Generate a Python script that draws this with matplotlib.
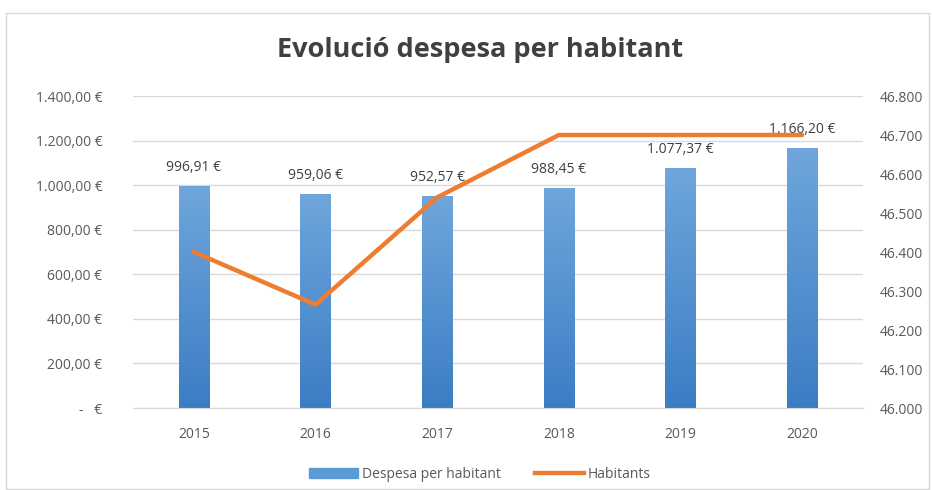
import numpy as np
import matplotlib
matplotlib.use('Agg')
import matplotlib.pyplot as plt
from matplotlib.patches import Rectangle

plt.rcParams['font.family'] = ['Open Sans', 'DejaVu Sans']

years = ['2015', '2016', '2017', '2018', '2019', '2020']
despesa = [996.91, 959.06, 952.57, 988.45, 1077.37, 1166.20]
habitants = [46400, 46265, 46540, 46700, 46700, 46700]

left_ticks = [0, 200, 400, 600, 800, 1000, 1200, 1400]
right_ticks = [46000, 46100, 46200, 46300, 46400, 46500, 46600, 46700, 46800]

text_color = '#595959'
grid_color = '#D9D9D9'
bar_color = '#5B9BD5'
line_color = '#ED7D31'


def fmt_num(v, decimals=2):
    s = f"{v:,.{decimals}f}"
    return s.replace(',', 'X').replace('.', ',').replace('X', '.')


def fmt_eur(v):
    if v == 0:
        return '-   €'
    return fmt_num(v) + ' €'


fig = plt.figure(figsize=(9.32, 4.9), dpi=100)
fig.patches.append(Rectangle((6 / 932, 0.002), 0.99, 1 - 13 / 490 - 0.002, transform=fig.transFigure,
                             fill=False, edgecolor='#D9D9D9', linewidth=1))

ax = fig.add_axes([133 / 932, 1 - 408 / 490, (863 - 133) / 932, (408 - 96) / 490])
x = np.arange(len(years))

# bars with vertical gradient
bars = ax.bar(x, despesa, width=0.25, color=bar_color, zorder=2)
grad = np.linspace(0, 1, 256).reshape(-1, 1)
cmap = matplotlib.colors.LinearSegmentedColormap.from_list('g', ['#3B7DC4', '#6FA6DC'])
for b in bars:
    im = ax.imshow(grad, cmap=cmap, aspect='auto', origin='lower',
                   extent=[b.get_x(), b.get_x() + b.get_width(), 0, b.get_height()], zorder=2)
    im.set_clip_path(b)

ax.set_xlim(-0.5, len(years) - 0.5)
ax.set_ylim(0, 1400)
ax.set_yticks(left_ticks)
ax.set_yticklabels([fmt_eur(v) for v in left_ticks])
ax.set_xticks(x)
ax.set_xticklabels(years)
ax.grid(axis='y', color=grid_color, linewidth=1, zorder=0)
ax.set_axisbelow(True)
for s in ['top', 'right', 'left']:
    ax.spines[s].set_visible(False)
ax.spines['bottom'].set_color(grid_color)
ax.tick_params(axis='both', length=0, labelsize=10, labelcolor=text_color)
ax.tick_params(axis='y', pad=22)
ax.tick_params(axis='x', pad=14)

for xi, v in zip(x, despesa):
    ax.annotate(fmt_eur(v), (xi, v), xytext=(0, 8), textcoords='offset points',
                ha='center', va='bottom', fontsize=10, color='#404040')

ax2 = ax.twinx()
ax2.plot(x, habitants, color=line_color, linewidth=3.2, solid_capstyle='round', zorder=3)
ax2.set_ylim(46000, 46800)
ax2.set_yticks(right_ticks)
ax2.set_yticklabels([fmt_num(v, 0) for v in right_ticks])
for s in ['top', 'right', 'left', 'bottom']:
    ax2.spines[s].set_visible(False)
ax2.tick_params(axis='y', length=0, labelsize=10, labelcolor=text_color, pad=12)

fig.text(480 / 932, 1 - 50 / 490, 'Evolució despesa per habitant', ha='center', va='center',
         fontsize=19.5, fontweight='bold', color='#404040')

handles = [Rectangle((0, 0), 1, 1, color=bar_color),
           plt.Line2D([0], [0], color=line_color, linewidth=3.2)]
fig.legend(handles, ['Despesa per habitant', 'Habitants'], loc='center',
           bbox_to_anchor=(480 / 932, 1 - 474 / 490), ncol=2, frameon=False,
           fontsize=10, labelcolor=text_color, handlelength=3.5, columnspacing=2.5, handletextpad=0.3)

fig.savefig('out.png', dpi=100)
